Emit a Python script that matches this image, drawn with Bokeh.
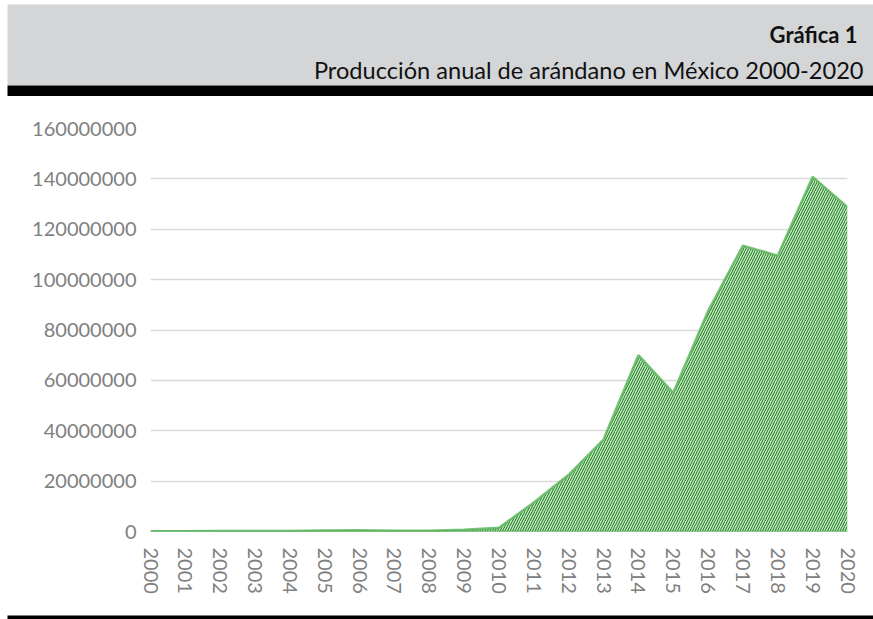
from bokeh.plotting import figure
from bokeh.layouts import column
from bokeh.models import Range1d, FixedTicker, NumeralTickFormatter
from bokeh.core.properties import value
from bokeh.embed import file_html
from bokeh.resources import INLINE

# ---- data ----
years = [2000, 2001, 2002, 2003, 2004, 2005, 2006, 2007, 2008, 2009, 2010,
         2011, 2012, 2013, 2014, 2015, 2016, 2017, 2018, 2019, 2020]
production = [100000, 120000, 150000, 180000, 200000, 350000, 450000, 300000,
              250000, 700000, 1500000, 11500000, 22500000, 36500000, 70000000,
              55000000, 87500000, 113500000, 109500000, 140800000, 128700000]
y_ticks = [0, 20000000, 40000000, 60000000, 80000000, 100000000,
           120000000, 140000000, 160000000]
title_text = "Gráfica 1"
subtitle_text = "Producción anual de arándano en México 2000-2020"

W = 873
FONT = "Lato"
GRAY_TXT = "#808080"

# ---- header ----
h = figure(width=W, height=96, x_range=Range1d(0, W), y_range=Range1d(96, 0),
           output_backend="svg", toolbar_location=None,
           min_border=0, outline_line_color=None)
h.frame_align = False
h.axis.visible = False
h.grid.visible = False
h.quad(left=[7], right=[W], top=[4], bottom=[85], fill_color="#d4d5d7", line_color=None)
h.quad(left=[7], right=[W], top=[85], bottom=[96], fill_color="#000000", line_color=None)
h.text(x=[857], y=[34], text=[title_text], text_align="right", text_baseline="alphabetic",
       text_font=value(FONT), text_font_style="bold", text_font_size="22px", text_color="#111111")
h.text(x=[863], y=[69], text=[subtitle_text], text_align="right", text_baseline="alphabetic",
       text_font=value(FONT), text_font_size="23.6px", text_color="#111111")

# ---- main chart ----
p = figure(width=W, height=503, x_range=Range1d(years[0], years[-1]),
           y_range=Range1d(0, 160000000),
           output_backend="svg", toolbar_location=None,
           min_border_left=150, min_border_right=26, min_border_top=32, min_border_bottom=68,
           outline_line_color=None)
p.frame_align = False
p.xgrid.visible = False
p.ygrid.grid_line_color = "#d9d9d9"
p.ygrid.grid_line_width = 1.5
p.yaxis.ticker = FixedTicker(ticks=y_ticks)
p.yaxis.formatter = NumeralTickFormatter(format="0")
p.xaxis.ticker = FixedTicker(ticks=years)
p.xaxis.major_label_orientation = "vertical"
for ax in (p.xaxis, p.yaxis):
    ax.axis_line_color = None
    ax.major_tick_line_color = None
    ax.minor_tick_line_color = None
    ax.major_tick_out = 0
    ax.major_tick_in = 0
    ax.major_label_text_font = FONT
    ax.major_label_text_font_size = "20px"
    ax.major_label_text_color = GRAY_TXT
p.yaxis.major_label_standoff = 14
p.xaxis.major_label_standoff = 16

p.varea(x=years, y1=[0] * len(years), y2=production,
        fill_color="#c2efc2", hatch_pattern="/", hatch_color="#1b6b1b",
        hatch_scale=5, hatch_weight=1.0)
p.line(x=years, y=production, line_color="#5fb85f", line_width=2.5, line_alpha=0.85)
p.line(x=years, y=[0] * len(years), line_color="#3f9f3f", line_width=1.5)

# ---- footer rule ----
f = figure(width=W, height=20, x_range=Range1d(0, W), y_range=Range1d(0, 20),
           output_backend="svg", toolbar_location=None,
           min_border=0, outline_line_color=None)
f.frame_align = False
f.axis.visible = False
f.grid.visible = False
f.quad(left=[7], right=[W], top=[4], bottom=[0], fill_color="#000000", line_color=None)

layout = column(h, p, f, spacing=0)
open("out.html", "w").write(file_html(layout, INLINE))
